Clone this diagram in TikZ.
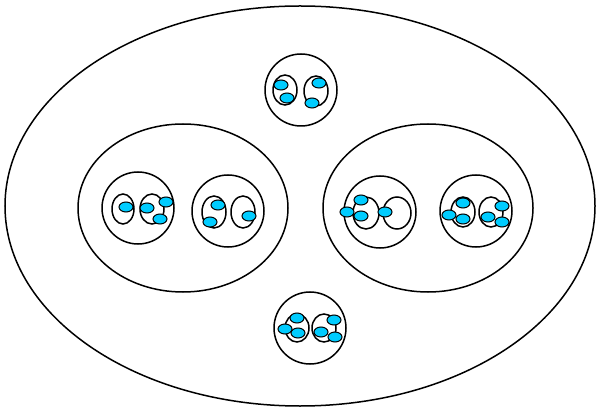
\documentclass[tikz,border=0pt]{standalone}
\usepackage{tikz}
\definecolor{blobcyan}{RGB}{0,204,255}

\begin{document}
\begin{tikzpicture}[x=1pt,y=-1pt,
	ring/.style={draw, line width=1.5pt},
	blob/.style={draw, fill=blobcyan, line width=1pt}]
	\useasboundingbox (0,0) rectangle (596,411);
	% outer set and the two middle sets
	\draw[ring] (300,206) ellipse (295 and 200);
	\draw[ring] (183,208) ellipse (105 and 84);
	\draw[ring] (428,208) ellipse (105 and 84);
	% top group
	\begin{scope}[shift={(301,90)}]
		\draw[ring] (0,0) circle (36);
		\draw[ring] (-16,0) ellipse (12 and 15);
		\draw[ring] (15,1) ellipse (12 and 15);
		\draw[blob] (-20,-5) ellipse (7 and 5);
		\draw[blob] (-14,8) ellipse (7 and 5);
		\draw[blob] (18,-7) ellipse (7 and 5);
		\draw[blob] (11,13) ellipse (7 and 5);
	\end{scope}
	% left set, first group
	\begin{scope}[shift={(138,208)}]
		\draw[ring] (0,0) circle (36);
		\draw[ring] (-15,1) ellipse (11 and 15);
		\draw[ring] (14,1) ellipse (12 and 15);
		\draw[blob] (-12,-1) ellipse (7 and 5);
		\draw[blob] (9,0) ellipse (7 and 5);
		\draw[blob] (28,-6) ellipse (7 and 5);
		\draw[blob] (22,11) ellipse (7 and 5);
	\end{scope}
	% left set, second group
	\begin{scope}[shift={(228,211)}]
		\draw[ring] (0,0) circle (36);
		\draw[ring] (-14,1) ellipse (12 and 16);
		\draw[ring] (15,1) ellipse (12 and 16);
		\draw[blob] (-10,-6) ellipse (7 and 5);
		\draw[blob] (-18,11) ellipse (7 and 5);
		\draw[blob] (21,5) ellipse (7 and 5);
	\end{scope}
	% right set, first group
	\begin{scope}[shift={(380,212)}]
		\draw[ring] (0,0) circle (36);
		\draw[ring] (-14,1) ellipse (13 and 16);
		\draw[ring] (17,1) ellipse (14 and 16);
		\draw[blob] (-19,-12) ellipse (7 and 5);
		\draw[blob] (-33,0) ellipse (7 and 5);
		\draw[blob] (-19,4) ellipse (7 and 5);
		\draw[blob] (5,0) ellipse (7 and 5);
	\end{scope}
	% right set, second group
	\begin{scope}[shift={(476,211)}]
		\draw[ring] (0,0) circle (36);
		\draw[ring] (-13,1) ellipse (12 and 15);
		\draw[ring] (15,1) ellipse (12 and 15);
		\draw[blob] (-13,-8) ellipse (7 and 5);
		\draw[blob] (-27,4) ellipse (7 and 5);
		\draw[blob] (-13,8) ellipse (7 and 5);
		\draw[blob] (26,-5) ellipse (7 and 5);
		\draw[blob] (12,6) ellipse (7 and 5);
		\draw[blob] (26,11) ellipse (7 and 5);
	\end{scope}
	% bottom group
	\begin{scope}[shift={(310,328)}]
		\draw[ring] (0,0) circle (36);
		\draw[ring] (-13,0) ellipse (12 and 14);
		\draw[ring] (14,0) ellipse (12 and 14);
		\draw[blob] (-13,-10) ellipse (7 and 5);
		\draw[blob] (-25,1) ellipse (7 and 5);
		\draw[blob] (-12,5) ellipse (7 and 5);
		\draw[blob] (24,-8) ellipse (7 and 5);
		\draw[blob] (11,4) ellipse (7 and 5);
		\draw[blob] (25,9) ellipse (7 and 5);
	\end{scope}
\end{tikzpicture}
\end{document}
